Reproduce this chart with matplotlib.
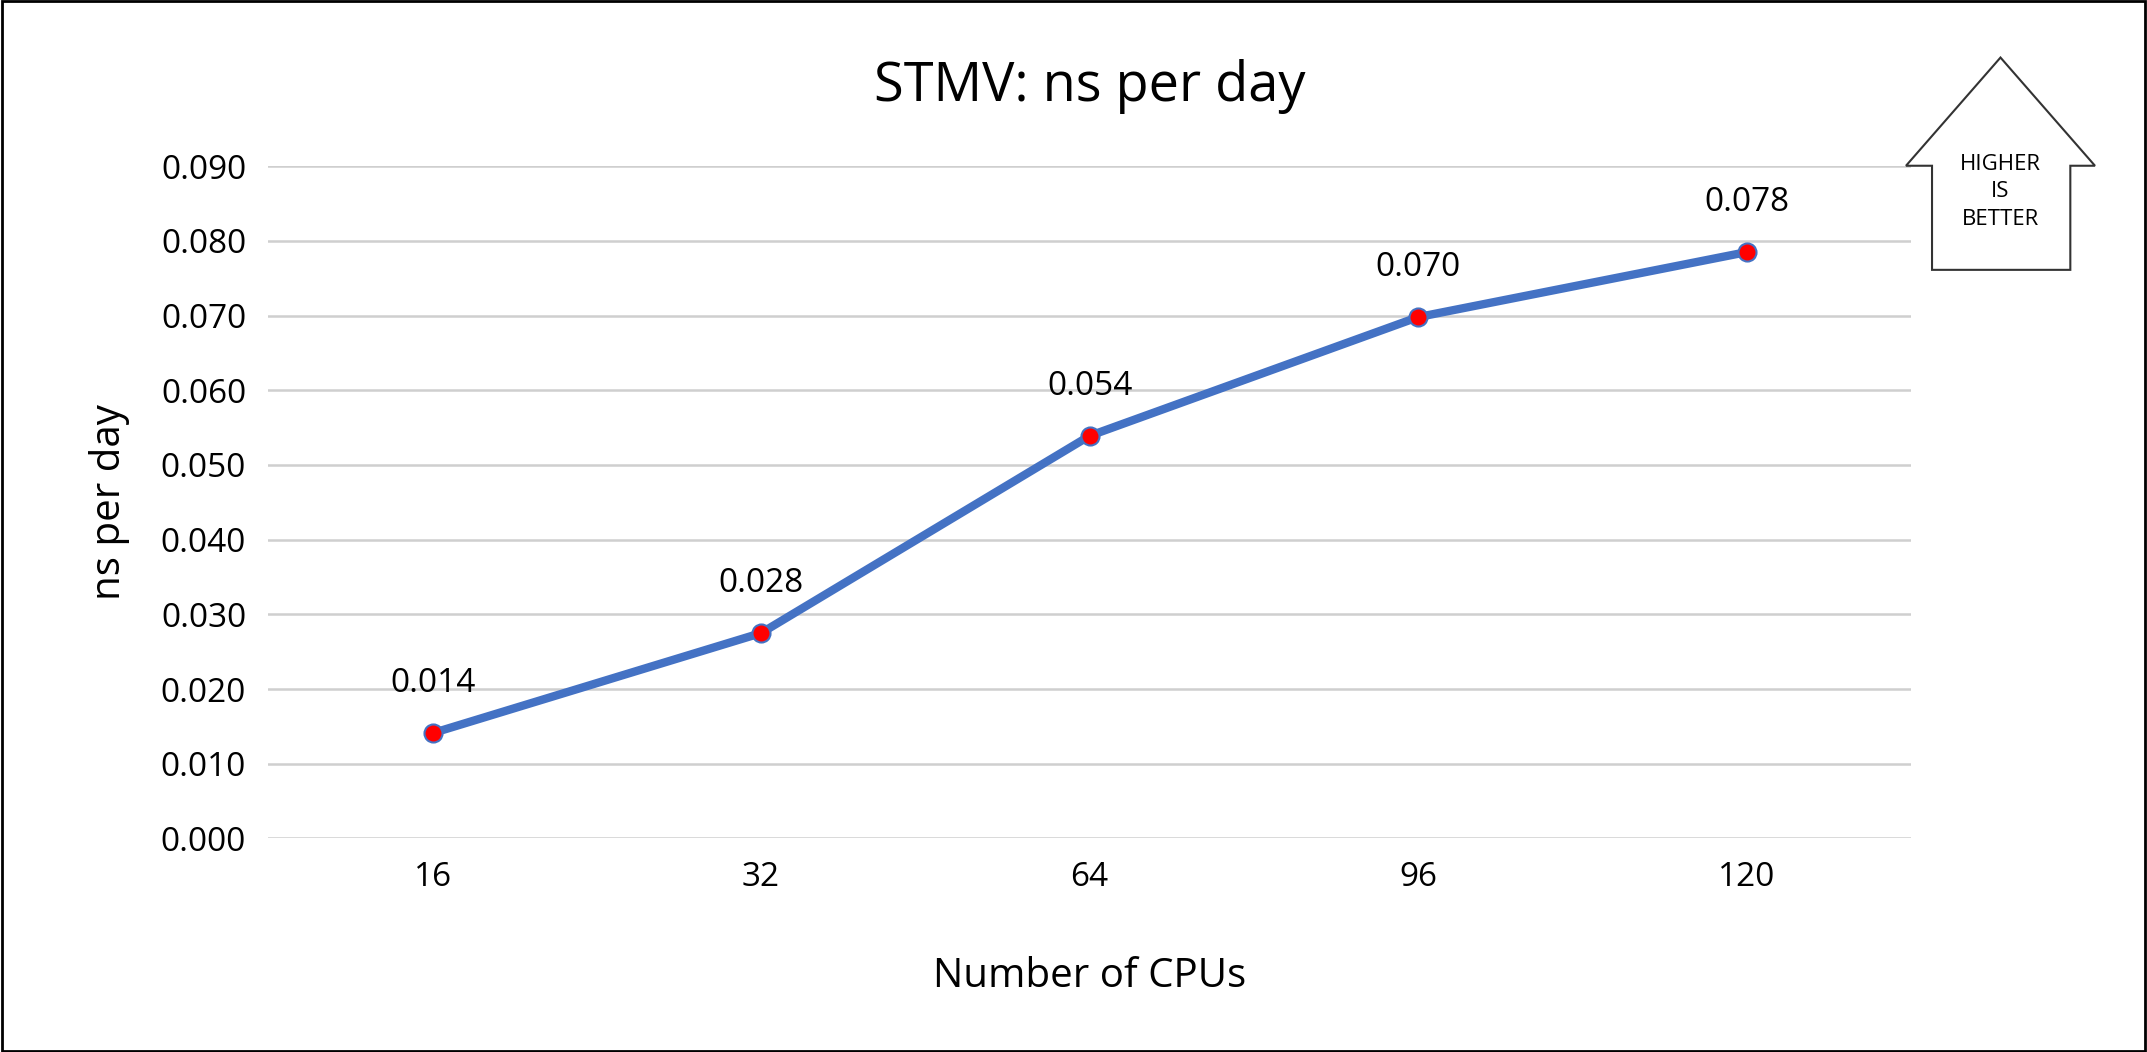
import matplotlib.pyplot as plt
from matplotlib.patches import Polygon, Rectangle

plt.rcParams['font.family'] = ['Open Sans', 'DejaVu Sans']

cpus = ["16", "32", "64", "96", "120"]
ns_per_day = [0.0141, 0.0275, 0.0539, 0.0698, 0.0785]
labels = ["0.014", "0.028", "0.054", "0.070", "0.078"]

fig = plt.figure(figsize=(21.47, 10.52), dpi=100)
ax = fig.add_axes([0.125, 0.203, 0.765, 0.639])
x = list(range(len(cpus)))
ax.plot(x, ns_per_day, color="#4472C4", lw=6, marker="o", ms=13,
        markerfacecolor="red", markeredgecolor="#4472C4", markeredgewidth=1.5, zorder=3)
for xi, v, t in zip(x, ns_per_day, labels):
    ax.annotate(t, (xi, v), xytext=(0, 24), textcoords="offset points",
                ha="center", va="bottom", fontsize=24)
ax.set_xlim(-0.5, len(cpus) - 0.5)
ax.set_ylim(0, 0.09)
ax.set_yticks([i * 0.01 for i in range(10)])
ax.set_yticklabels([f"{i * 0.01:.3f}" for i in range(10)])
ax.set_xticks(x)
ax.set_xticklabels(cpus)
ax.tick_params(labelsize=24, length=0, pad=16)
ax.grid(axis="y", color="#CFCFCF", lw=1.8)
ax.set_axisbelow(True)
for s in ax.spines.values():
    s.set_visible(False)
ax.set_xlabel("Number of CPUs", fontsize=29, labelpad=45)
ax.set_ylabel("ns per day", fontsize=29, labelpad=22)
fig.text(0.5075, 0.918, "STMV: ns per day", ha="center", va="center", fontsize=39)

# "higher is better" arrow
W, H = 1568, 768
pts = [(1392, 121), (1461, 42), (1530, 121), (1512, 121), (1512, 197), (1411, 197), (1411, 121)]
fig.patches.append(Polygon([(px / W, 1 - py / H) for px, py in pts], closed=True,
                           transform=fig.transFigure, facecolor="white", edgecolor="#333333", lw=1.5))
fig.text(1461 / W, 1 - 140 / H, "HIGHER\nIS\nBETTER", ha="center", va="center",
         fontsize=16, linespacing=1.4)
fig.patches.append(Rectangle((0.001, 0.001), 0.998, 0.998, transform=fig.transFigure,
                             fill=False, edgecolor="black", lw=2))
fig.savefig("out.png")
